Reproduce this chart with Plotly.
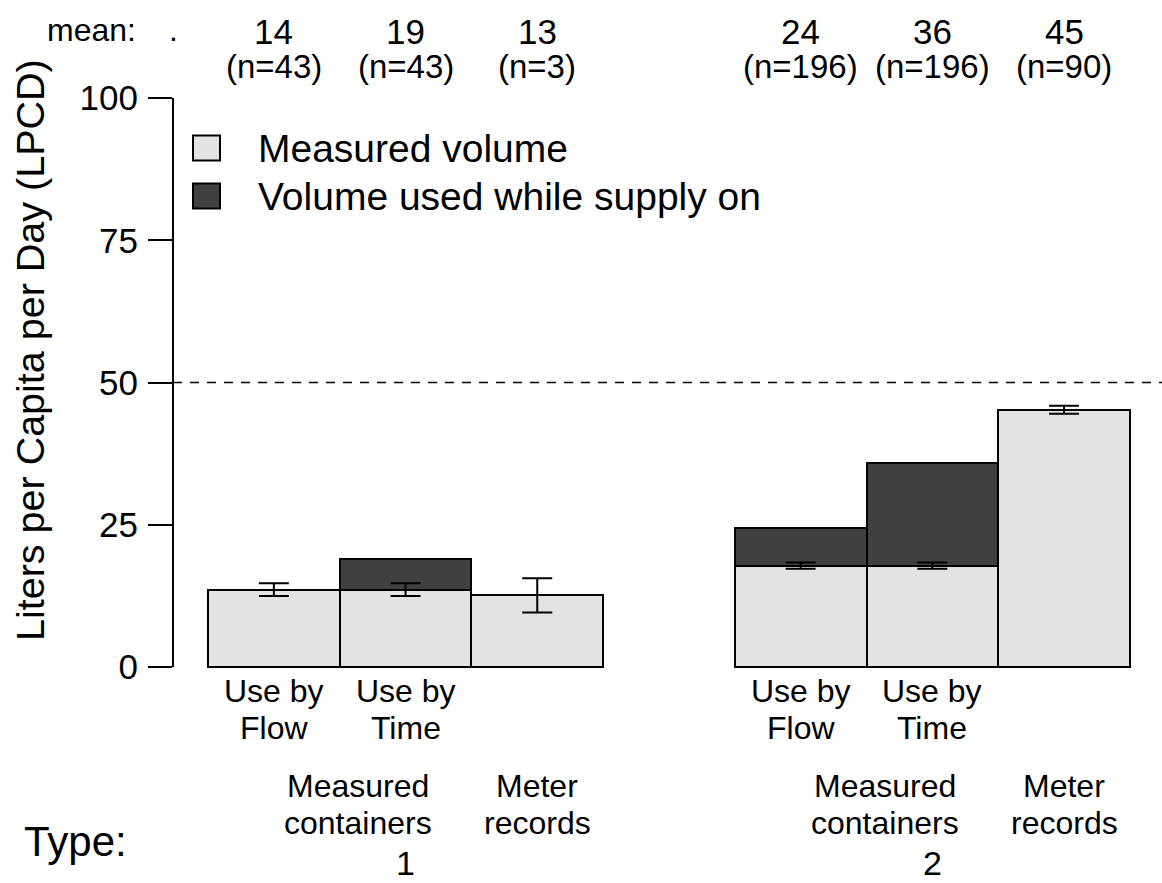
import plotly.graph_objects as go

# ---------------- data ----------------
bar_pos = [0.5, 1.5, 2.5, 4.5, 5.5, 6.5]
sub_labels = ["Use by<br>Flow", "Use by<br>Time", "", "Use by<br>Flow", "Use by<br>Time", ""]
measured = [13.6, 13.6, 12.6, 17.8, 17.8, 45.2]
supply_on_total = [None, 19.0, None, 24.4, 35.9, None]
err = [1.1, 1.1, 3.0, 0.55, 0.55, 0.7]
mean_labels = ["14", "19", "13", "24", "36", "45"]
n_labels = [43, 43, 3, 196, 196, 90]
type_labels = ["Measured<br>containers", "Meter<br>records", "Measured<br>containers", "Meter<br>records"]
type_pos = [1.14, 2.5, 5.14, 6.5]
group_labels = ["1", "2"]
group_pos = [1.5, 5.5]
legend_labels = ["Measured volume", "Volume used while supply on"]
y_ticks = [0, 25, 50, 75, 100]
reference_line = 50

LIGHT = "#E3E3E3"
DARK = "#404040"
FONT = "Liberation Sans, Arial, Helvetica, sans-serif"

# ---------------- geometry (pixel mapping) ----------------
W, H = 1162, 883
Y0_PX, Y100_PX = 667, 98
PPU_Y = (Y0_PX - Y100_PX) / 100.0
X_LEFT_PX = 173
X0_PX = 208
PPU_X = 131.7
x_range = [(X_LEFT_PX - X0_PX) / PPU_X, (W - X0_PX) / PPU_X]
y_range = [-(H - Y0_PX) / PPU_Y, Y0_PX / PPU_Y]


def ypx(p):
    return (Y0_PX - p) / PPU_Y


def xpx(p):
    return (p - X0_PX) / PPU_X


def xpaper(p):
    return (p - X_LEFT_PX) / (W - X_LEFT_PX)


dark_vals = [None if t is None else t - m for t, m in zip(supply_on_total, measured)]

fig = go.Figure()
fig.add_trace(go.Bar(x=bar_pos, y=measured, width=1, marker=dict(color=LIGHT, line=dict(color="black", width=2)),
                     name=legend_labels[0], showlegend=False))
fig.add_trace(go.Bar(x=bar_pos, y=dark_vals, width=1, marker=dict(color=DARK, line=dict(color="black", width=2)),
                     name=legend_labels[1], showlegend=False))
fig.add_trace(go.Scatter(x=bar_pos, y=measured, mode="markers", marker=dict(size=1, color="rgba(0,0,0,0)"),
                         error_y=dict(type="data", array=err, thickness=2, width=15, color="black"),
                         showlegend=False, hoverinfo="skip"))

shapes = []
# y axis line
shapes.append(dict(type="line", xref="paper", yref="y", x0=0, x1=0, y0=0, y1=100,
                   line=dict(color="black", width=2)))
# dashed reference
shapes.append(dict(type="line", xref="paper", yref="y", x0=0, x1=1, y0=reference_line, y1=reference_line,
                   line=dict(color="black", width=1.5, dash="9px,8px")))
# legend boxes
leg_rows_px = [148, 196]
for i, c in enumerate([LIGHT, DARK]):
    cy = leg_rows_px[i]
    shapes.append(dict(type="rect", xref="x", yref="y", x0=xpx(193), x1=xpx(220),
                       y0=ypx(cy - 12.5), y1=ypx(cy + 12.5), fillcolor=c,
                       line=dict(color="black", width=2)))

ann = []


def txt(x, y, s, size=34, xanchor="center", xref="x", **kw):
    ann.append(dict(x=x, y=y, xref=xref, yref="y", text=s, showarrow=False, xanchor=xanchor,
                    yanchor="middle", font=dict(family=FONT, size=size, color="black"), **kw))


# top: means and n
txt(xpaper(91), ypx(30), "mean:", 32, xref="paper")
txt(xpaper(173), ypx(30), ".", 32, xref="paper")
for x, m, n in zip(bar_pos, mean_labels, n_labels):
    txt(x, ypx(31), m, 35)
    txt(x, ypx(66), f"(n={n})", 33)

# legend text
for i, lab in enumerate(legend_labels):
    txt(xpx(256), ypx(leg_rows_px[i]), lab, 39, xanchor="left")

# sub labels
for x, lab in zip(bar_pos, sub_labels):
    if lab:
        l1, l2 = lab.split("<br>")
        txt(x, ypx(691), l1, 32)
        txt(x, ypx(728), l2, 32)

for x, lab in zip(type_pos, type_labels):
    l1, l2 = lab.split("<br>")
    txt(x, ypx(786), l1, 32)
    txt(x, ypx(823), l2, 32)

txt(xpaper(75), ypx(841), "Type:", 42, xref="paper")
for x, g in zip(group_pos, group_labels):
    txt(x, ypx(863), g, 34)

# y title
ann.append(dict(x=xpaper(30), y=ypx(350), xref="paper", yref="y", text="Liters per Capita per Day (LPCD)",
                showarrow=False, textangle=-90, xanchor="center", yanchor="middle",
                font=dict(family=FONT, size=39.5, color="black")))

fig.update_layout(
    width=W, height=H,
    margin=dict(l=X_LEFT_PX, r=0, t=0, b=0),
    plot_bgcolor="white", paper_bgcolor="white",
    barmode="stack", bargap=0,
    shapes=shapes, annotations=ann,
    xaxis=dict(range=x_range, visible=False, fixedrange=True),
    yaxis=dict(range=y_range, tickvals=y_ticks, ticktext=[str(v) for v in y_ticks],
               ticks="outside", ticklen=24, tickwidth=2, tickcolor="black",
               showgrid=False, zeroline=False, showline=False,
               tickfont=dict(family=FONT, size=35, color="black"), ticklabelstandoff=3),
    showlegend=False,
)

fig.write_html("out.html")
